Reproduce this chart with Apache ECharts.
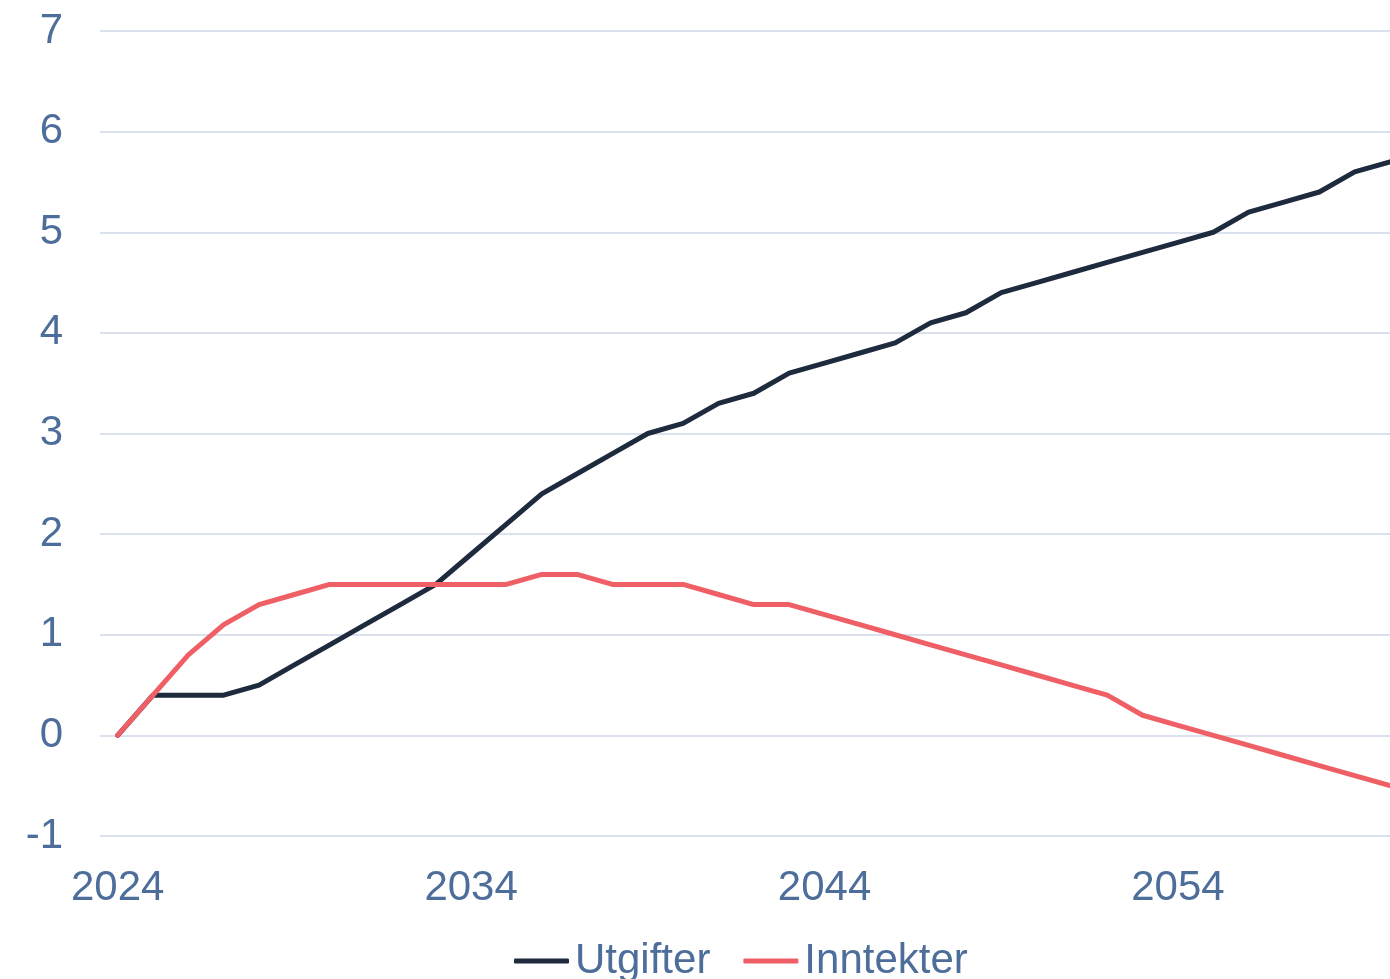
<!DOCTYPE html>
<html>
<head>
<meta charset="utf-8">
<script src="https://cdn.jsdelivr.net/npm/echarts@6/dist/echarts.min.js"></script>
<style>
  html, body { margin: 0; padding: 0; background: #fff; }
  #chart { width: 1390px; height: 979px; }
</style>
</head>
<body>
<div id="chart"></div>
<script>
const years = [];
for (let y = 2024; y <= 2060; y++) years.push(y);

const utgifter = [
  0, 0.4, 0.4, 0.4, 0.5, 0.7, 0.9, 1.1, 1.3, 1.5,
  1.8, 2.1, 2.4, 2.6, 2.8, 3.0, 3.1, 3.3, 3.4, 3.6,
  3.7, 3.8, 3.9, 4.1, 4.2, 4.4, 4.5, 4.6, 4.7, 4.8,
  4.9, 5.0, 5.2, 5.3, 5.4, 5.6, 5.7
];
const inntekter = [
  0, 0.4, 0.8, 1.1, 1.3, 1.4, 1.5, 1.5, 1.5, 1.5,
  1.5, 1.5, 1.6, 1.6, 1.5, 1.5, 1.5, 1.4, 1.3, 1.3,
  1.2, 1.1, 1.0, 0.9, 0.8, 0.7, 0.6, 0.5, 0.4, 0.2,
  0.1, 0.0, -0.1, -0.2, -0.3, -0.4, -0.5
];
const xTickLabels = [2024, 2034, 2044, 2054];

const labelColor = "#4d6d9a";
const font = "Liberation Sans, Arial, sans-serif";

const chart = echarts.init(document.getElementById("chart"));
chart.setOption({
  animation: false,
  grid: { left: 100, right: 0, top: 31, bottom: 143 },
  legend: {
    top: 935,
    left: 509,
    itemGap: 33,
    itemWidth: 55,
    itemHeight: 5,
    icon: "roundRect",
    textStyle: { color: labelColor, fontSize: 42, fontFamily: font, padding: [0, 0, 0, 1] },
    data: ["Utgifter", "Inntekter"],
  },
  xAxis: {
    type: "value",
    min: 2023.5,
    max: 2060,
    axisLine: { show: false },
    axisTick: { show: false },
    splitLine: { show: false },
    axisLabel: {
      customValues: xTickLabels,
      formatter: (v) => String(v),
      color: labelColor,
      fontSize: 42,
      fontFamily: font,
      margin: 31,
    },
  },
  yAxis: {
    type: "value",
    min: -1,
    max: 7,
    interval: 1,
    axisLine: { show: false },
    axisTick: { show: false },
    splitLine: { lineStyle: { color: "#dbe2ee", width: 2 } },
    axisLabel: { color: labelColor, fontSize: 42, fontFamily: font, margin: 37 },
  },
  series: [
    {
      name: "Utgifter",
      type: "line",
      showSymbol: false,
      data: years.map((y, i) => [y, utgifter[i]]),
      lineStyle: { color: "#1e2a3d", width: 5, cap: "round", join: "round" },
      itemStyle: { color: "#1e2a3d" },
    },
    {
      name: "Inntekter",
      type: "line",
      showSymbol: false,
      data: years.map((y, i) => [y, inntekter[i]]),
      lineStyle: { color: "#ef5f66", width: 5, cap: "round", join: "round" },
      itemStyle: { color: "#ef5f66" },
    },
  ],
});
</script>
</body>
</html>
